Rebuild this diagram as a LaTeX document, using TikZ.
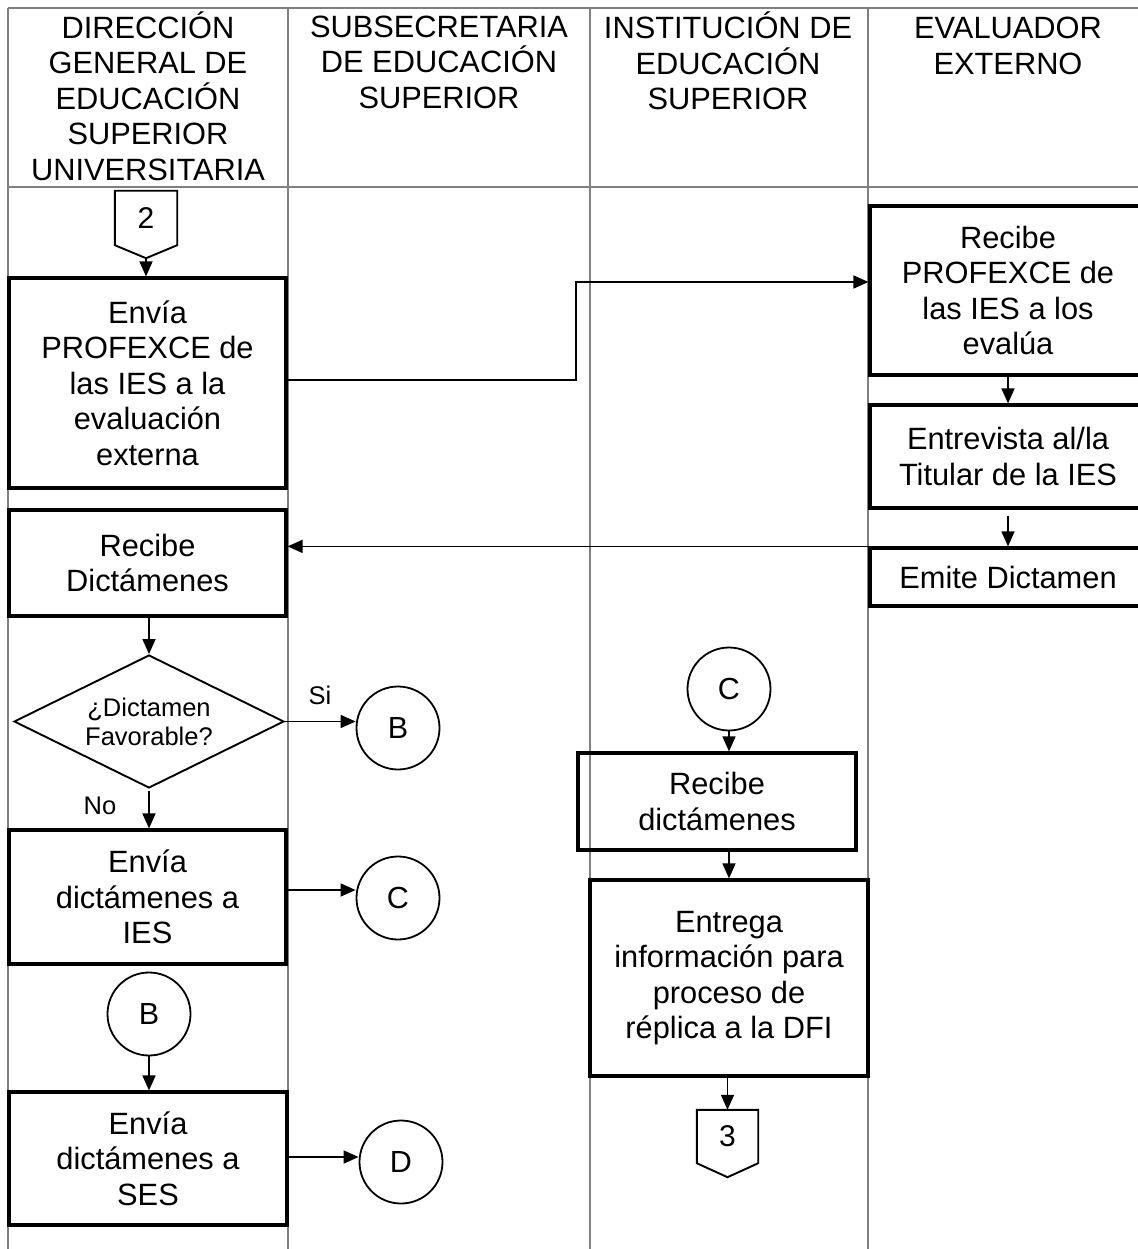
\documentclass[tikz,border=0pt]{standalone}
\usepackage{fontspec}
\setmainfont{Liberation Sans}
\usetikzlibrary{arrows.meta,shapes.geometric,calc}
\begin{document}
\begin{tikzpicture}[x=1pt,y=-1pt,
  lane/.style={draw=black!50, line width=1.3pt},
  proc/.style={draw=black, line width=3.2pt, inner sep=0pt, align=center, font=\fontsize{30.8}{35.5}\selectfont},
  hdr/.style={align=center, inner sep=0pt, font=\fontsize{30.8}{35.5}\selectfont},
  conn/.style={draw=black, line width=1.8pt, circle, minimum size=83pt, inner sep=0pt, font=\fontsize{30.5}{35}\selectfont},
  offtxt/.style={inner sep=0pt, minimum width=62pt, minimum height=54pt, font=\fontsize{30}{35}\selectfont},
  offline/.style={draw=black, line width=1.9pt},
  flow/.style={draw=black, line width=1.6pt, -{Triangle[length=15pt,width=13pt]}},
  lbl/.style={inner sep=0pt, font=\fontsize{25.5}{29}\selectfont}
]
\useasboundingbox (0,0) rectangle (1137,1249);
% swimlane frame
\draw[lane] (8,8) -- (1150,8);
\draw[lane] (8,187) -- (1150,187);
\foreach \x in {8,288,590,868} \draw[lane] (\x,8) -- (\x,1260);
% headers
\node[hdr] (h1) at (148,96) {DIRECCIÓN\\GENERAL DE\\EDUCACIÓN\\SUPERIOR\\UNIVERSITARIA};
\node[hdr] (h2) at (439,62) {SUBSECRETARIA\\DE EDUCACIÓN\\SUPERIOR};
\node[hdr] (h3) at (728,61) {INSTITUCIÓN DE\\EDUCACIÓN\\SUPERIOR};
\node[hdr] (h4) at (1008,46) {EVALUADOR\\EXTERNO};
% off-page connector 2
\node[offtxt] (o2) at (146,218) {2};
\draw[offline] (o2.north west) -- (o2.north east) -- (o2.south east) -- ($(o2.south)+(0,13)$) coordinate (o2tip) -- (o2.south west) -- cycle;
% process boxes
\node[proc, minimum width=277pt, minimum height=210pt] (A) at (147.5,383) {Envía\\PROFEXCE de\\las IES a la\\evaluación\\externa};
\node[proc, minimum width=276pt, minimum height=169pt] (E1) at (1008,290.5) {Recibe\\PROFEXCE de\\las IES a los\\evalúa};
\node[proc, minimum width=276pt, minimum height=103pt] (E2) at (1008,456.5) {Entrevista al/la\\Titular de la IES};
\node[proc, minimum width=276pt, minimum height=58pt] (E3) at (1008,577) {Emite Dictamen};
\node[proc, minimum width=277pt, minimum height=106pt] (R) at (147.5,563) {Recibe\\Dictámenes};
\node[diamond, draw=black, line width=1.9pt, minimum width=270pt, minimum height=133pt, inner sep=0pt] (Q) at (149,721.5) {};
\node[lbl, align=center] (Qt) at (Q) {¿Dictamen\\Favorable?};
\node[proc, minimum width=277pt, minimum height=134pt] (D1) at (147.5,897) {Envía\\dictámenes a\\IES};
\node[proc, minimum width=278pt, minimum height=133pt] (D2) at (148,1158.5) {Envía\\dictámenes a\\SES};
\node[proc, minimum width=278pt, minimum height=97pt] (I1) at (717,801.5) {Recibe\\dictámenes};
\node[proc, minimum width=278pt, minimum height=196pt] (I2) at (729,978) {Entrega\\información para\\proceso de\\réplica a la DFI};
% on-page connectors
\node[conn] (B1) at (398,728) {B};
\node[conn] (C1) at (398,898) {C};
\node[conn] (B2) at (149,1014) {B};
\node[conn] (Dc) at (401,1162) {D};
\node[conn] (C2) at (729,689) {C};
% off-page connector 3
\node[offtxt, minimum width=61pt, minimum height=53pt] (o3) at (727.5,1136.5) {3};
\draw[offline] (o3.north west) -- (o3.north east) -- (o3.south east) -- ($(o3.south)+(0,14)$) coordinate (o3tip) -- (o3.south west) -- cycle;
% labels
\node[lbl] (si) at (320,695) {Si};
\node[lbl] (no) at (100,806) {No};
% connectors
\coordinate (bend) at (576,0);
\draw[flow] (o2tip) -- (o2tip |- A.north);
\draw[flow] ($(A.east)+(0,-3)$) -- ($(A.east -| bend)+(0,-3)$) |- ($(E1.west)+(0,-8.5)$);
\draw[flow] (E1.south) -- (E2.north);
\draw[flow] ($(E2.south)+(0,6)$) -- (E3.north);
\draw[flow] (E3.north west) -- (E3.north west -| R.east);
\draw[flow] (Q.north |- R.south) -- (Q.north);
\draw[flow] (Q.east) -- (Q.east -| B1.west);
\draw[flow] ($(Q.south)+(0,2)$) -- (Q.south |- D1.north);
\draw[flow] ($(D1.east)+(0,-7)$) -- ($(D1.east -| C1.west)+(0,-7)$);
\draw[flow] (B2.south) -- (B2.south |- D2.north);
\draw[flow] ($(D2.east)+(0,-1.5)$) -- ($(D2.east -| Dc.west)+(0,-1.5)$);
\draw[flow] (C2.south) -- (C2.south |- I1.north);
\draw[flow] (I2.north |- I1.south) -- (I2.north);
\draw[flow] (o3.north |- I2.south) -- (o3.north);
\end{tikzpicture}
\end{document}
